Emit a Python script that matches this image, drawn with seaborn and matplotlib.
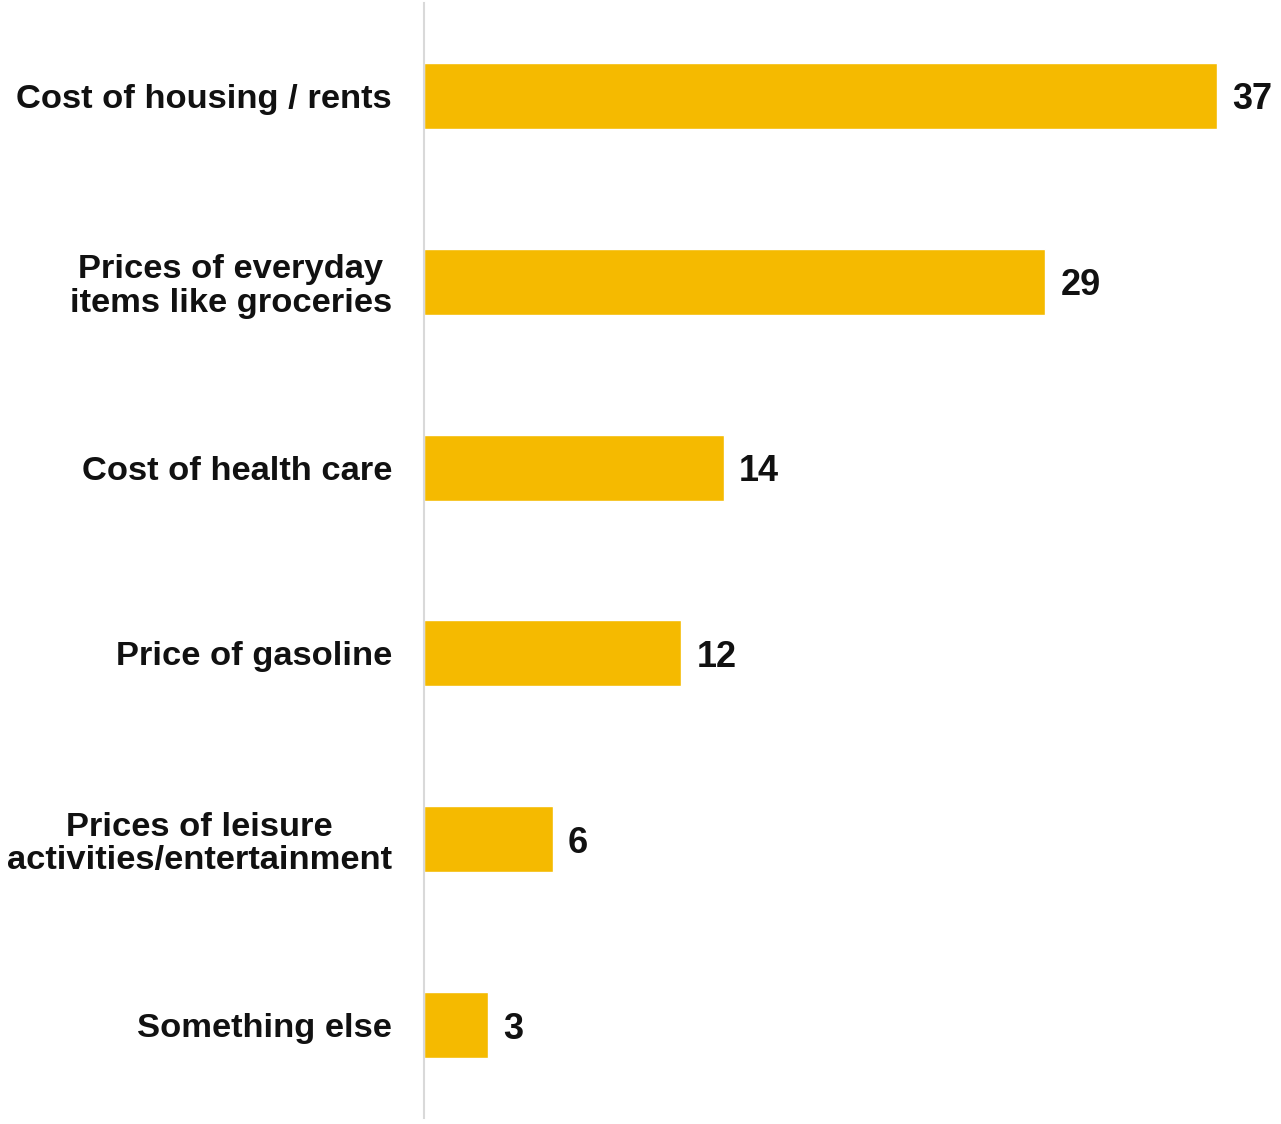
import matplotlib
matplotlib.use("Agg")
import matplotlib.pyplot as plt
import seaborn as sns
import pandas as pd

categories = [
    "Cost of housing / rents",
    "Prices of everyday\nitems like groceries",
    "Cost of health care",
    "Price of gasoline",
    "Prices of leisure\nactivities/entertainment",
    "Something else",
]
values = [37, 29, 14, 12, 6, 3]

sns.set_theme(style="white")
plt.rcParams["font.family"] = ["Liberation Sans", "DejaVu Sans"]

df = pd.DataFrame({"category": categories, "value": values})

fig = plt.figure(figsize=(12.81, 11.24), dpi=100)
ax = fig.add_axes([424 / 1281, 6 / 1124, 1 - 424 / 1281, 1 - 9 / 1124])

sns.barplot(data=df, x="value", y="category", color="#F5BA00",
            width=0.355, saturation=1, ax=ax)

ax.set_xlim(0, 40)
ax.set_ylim(5.5, -0.5)
ax.set_xlabel("")
ax.set_ylabel("")
ax.set_xticks([])

for s in ["top", "right", "bottom"]:
    ax.spines[s].set_visible(False)
ax.spines["left"].set_color("#d9d9d9")
ax.spines["left"].set_linewidth(1.5)

ax.tick_params(axis="y", length=0, pad=23)
for lbl in ax.get_yticklabels():
    lbl.set_fontsize(24.8)
    lbl.set_fontweight("bold")
    lbl.set_color("#111111")
    lbl.set_multialignment("center")
    lbl.set_linespacing(1.1)

for container in ax.containers:
    texts = ax.bar_label(container, labels=[str(v) for v in values], padding=11,
                         fontsize=26, fontweight="bold", color="#111111")
    for t in texts:
        t.set_verticalalignment("center_baseline")

fig.savefig("out.png", dpi=100)
